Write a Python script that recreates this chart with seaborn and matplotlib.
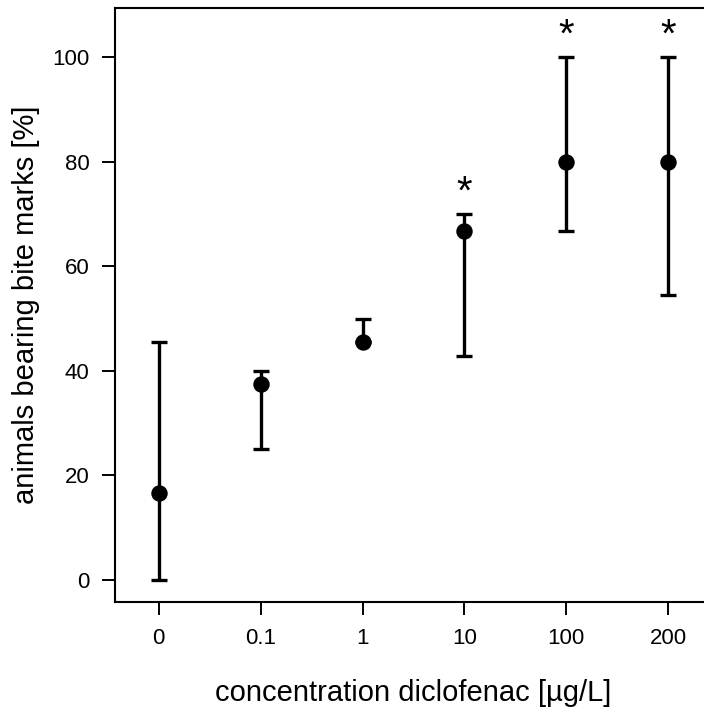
import matplotlib
matplotlib.use("Agg")
import matplotlib.pyplot as plt
import seaborn as sns
import numpy as np
import pandas as pd

concentrations = ["0", "0.1", "1", "10", "100", "200"]
mean_pct = [16.7, 37.5, 45.5, 66.7, 80.0, 80.0]
lower_pct = [0.0, 25.0, 45.5, 42.9, 66.7, 54.5]
upper_pct = [45.5, 40.0, 50.0, 70.0, 100.0, 100.0]
significant = [False, False, False, True, True, True]
y_ticks = [0, 20, 40, 60, 80, 100]

sns.set_theme(style="ticks")
plt.rcParams["font.family"] = ["Liberation Sans", "DejaVu Sans"]
plt.rcParams["text.color"] = "black"
plt.rcParams["axes.labelcolor"] = "black"

df = pd.DataFrame({"conc": concentrations, "mean": mean_pct,
                   "lo": lower_pct, "hi": upper_pct})

fig = plt.figure(figsize=(7.04, 7.08), dpi=100)
ax = fig.add_axes([115 / 704, (708 - 602) / 708, (712 - 115) / 704, (602 - 8) / 708])

xpos = np.arange(len(concentrations))
yerr = np.array([df["mean"] - df["lo"], df["hi"] - df["mean"]])
ax.errorbar(xpos, df["mean"], yerr=yerr, fmt="none", ecolor="black",
            elinewidth=2.4, capsize=6.0, capthick=2.4, zorder=2)
sns.scatterplot(data=df, x="conc", y="mean", ax=ax, color="black", s=140,
                edgecolor="black", linewidth=0, zorder=3, legend=False)

for i, sig in enumerate(significant):
    if sig:
        ax.text(xpos[i], df["hi"][i] + 2.0, "*", ha="center", va="baseline",
                fontsize=29, color="black")

ax.set_xlim(-0.43, 5.43)
ax.set_ylim(-4.2, 109.4)
ax.set_xticks(xpos)
ax.set_xticklabels(concentrations)
ax.set_yticks(y_ticks)
ax.set_yticklabels([str(v) for v in y_ticks])
ax.set_xlabel("concentration diclofenac [µg/L]", fontsize=21, labelpad=22,
              color="black")
ax.set_ylabel("animals bearing bite marks [%]", fontsize=21, labelpad=9,
              color="black")
ax.tick_params(axis="both", labelsize=16, length=9.4, width=1.4, color="black",
               labelcolor="black", pad=9)
for s in ax.spines.values():
    s.set_linewidth(1.5)
    s.set_color("black")

fig.savefig("out.png", dpi=100, facecolor="white")
